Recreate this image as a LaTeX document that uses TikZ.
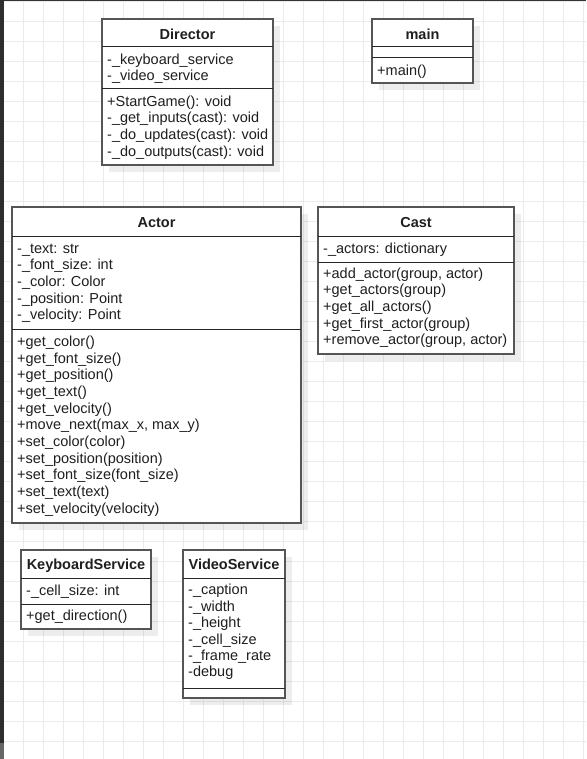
\documentclass[tikz,border=0pt]{standalone}
\usepackage{fontspec}
\setmainfont{Liberation Sans}
\definecolor{gridc}{HTML}{EBEBEB}
\definecolor{bordc}{HTML}{555555}
\definecolor{txtc}{HTML}{1F1F1F}
\tikzset{
  classbox/.style={draw=bordc, line width=1.3pt, fill=white},
  divider/.style={draw=black!85, line width=1pt},
  shadowbox/.style={fill=black, fill opacity=0.07, draw=none},
  classtitle/.style={font=\fontsize{14.5}{16.8}\selectfont\bfseries, text=txtc, anchor=base, inner sep=0pt},
  members/.style={font=\fontsize{14.5}{16.7}\selectfont, text=txtc, anchor=north west, inner sep=0pt, align=left},
}
\begin{document}
\begin{tikzpicture}[x=1pt,y=-1pt]
\useasboundingbox (0,0) rectangle (586,759);
\fill[white] (0,0) rectangle (586,759);
% grid
\foreach \gx in {3,23,...,583} \draw[gridc, line width=0.8pt] (\gx,0) -- (\gx,759);
\foreach \gy in {1.5,21.5,...,758} \draw[gridc, line width=0.8pt] (0,\gy) -- (586,\gy);
% frame
\fill[black!80] (0,0) rectangle (586,1.2);
\fill[black!82] (0,0) rectangle (4,743);
\fill[black!60] (0,743) rectangle (4,759);

% ---- Director ----
\fill[shadowbox] (109,26) rectangle (280,172);
\draw[classbox] (102,19) rectangle (273,165);
\draw[divider] (102,47) -- (273,47);
\draw[divider] (102,89) -- (273,89);
\node[classtitle] (directorT) at (187.5,39.5) {Director};
\node[members] (directorA) at (107,52.3) {\strut -\_keyboard\_service\\-\_video\_service};
\node[members] (directorM) at (107,94.3) {\strut +StartGame(): void\\-\_get\_inputs(cast): void\\-\_do\_updates(cast): void\\-\_do\_outputs(cast): void};

% ---- main ----
\fill[shadowbox] (379,26) rectangle (480,90);
\draw[classbox] (372,19) rectangle (473,83);
\draw[divider] (372,47) -- (473,47);
\draw[divider] (372,58) -- (473,58);
\node[classtitle] (mainT) at (422.5,39.5) {main};
\node[members] (mainM) at (377,63.3) {\strut +main()};

% ---- Actor ----
\fill[shadowbox] (19,214) rectangle (308,530);
\draw[classbox] (12,207) rectangle (301,523);
\draw[divider] (12,236) -- (301,236);
\draw[divider] (12,329) -- (301,329);
\node[classtitle] (actorT) at (156.5,227.5) {Actor};
\node[members] (actorA) at (17,241.3) {\strut -\_text: str\\-\_font\_size: int\\-\_color: Color\\-\_position: Point\\-\_velocity: Point};
\node[members] (actorM) at (17,334.5) {\strut +get\_color()\\+get\_font\_size()\\+get\_position()\\+get\_text()\\+get\_velocity()\\+move\_next(max\_x, max\_y)\\+set\_color(color)\\+set\_position(position)\\+set\_font\_size(font\_size)\\+set\_text(text)\\+set\_velocity(velocity)};

% ---- Cast ----
\fill[shadowbox] (325,214) rectangle (521,361);
\draw[classbox] (318,207) rectangle (514,354);
\draw[divider] (318,236) -- (514,236);
\draw[divider] (318,262) -- (514,262);
\node[classtitle] (castT) at (416,227.5) {Cast};
\node[members] (castA) at (323,241.3) {\strut -\_actors: dictionary};
\node[members] (castM) at (323,266.3) {\strut +add\_actor(group, actor)\\+get\_actors(group)\\+get\_all\_actors()\\+get\_first\_actor(group)\\+remove\_actor(group, actor)};

% ---- KeyboardService ----
\fill[shadowbox] (28,557) rectangle (158,636);
\draw[classbox] (21,550) rectangle (151,629);
\draw[divider] (21,578) -- (151,578);
\draw[divider] (21,604) -- (151,604);
\node[classtitle] (kbT) at (86,569) {KeyboardService};
\node[members] (kbA) at (26,583.3) {\strut -\_cell\_size: int};
\node[members] (kbM) at (26,608.8) {\strut +get\_direction()};

% ---- VideoService ----
\fill[shadowbox] (190,557) rectangle (292,705);
\draw[classbox] (183,550) rectangle (285,698);
\draw[divider] (183,578) -- (285,578);
\draw[divider] (183,688) -- (285,688);
\node[classtitle] (vsT) at (234,569) {VideoService};
\node[members, font=\fontsize{14.5}{16.4}\selectfont] (vsA) at (188,583.3) {\strut -\_caption\\-\_width\\-\_height\\-\_cell\_size\\-\_frame\_rate\\-debug};
\end{tikzpicture}
\end{document}
